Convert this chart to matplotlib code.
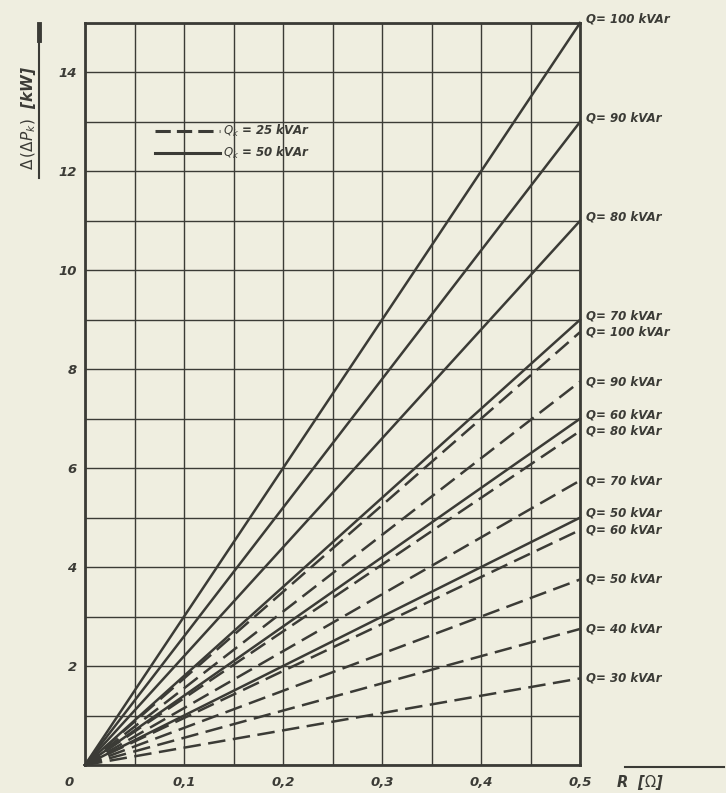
import matplotlib
matplotlib.use("Agg")
import matplotlib.pyplot as plt
import numpy as np

# values read at R = 0.5 ohm (lines go through the origin)
r_end = 0.5
q_solid = [100, 90, 80, 70, 60, 50]           # Qk = 50 kVAr
dp_solid = [15.0, 13.0, 11.0, 9.0, 7.0, 5.0]
q_dashed = [100, 90, 80, 70, 60, 50, 40, 30]  # Qk = 25 kVAr
dp_dashed = [8.75, 7.75, 6.75, 5.75, 4.75, 3.75, 2.75, 1.75]

x_ticks = [0.1, 0.2, 0.3, 0.4, 0.5]
x_labels = ["0,1", "0,2", "0,3", "0,4", "0,5"]
y_ticks = [2, 4, 6, 8, 10, 12, 14]

paper = "#efeee0"
ink = "#3b3b36"
tfont = dict(family="DejaVu Sans", style="italic", weight="bold", color=ink)

fig = plt.figure(figsize=(7.26, 7.93), dpi=100, facecolor=paper)
ax = fig.add_axes([85 / 726, 1 - 765 / 793, 495 / 726, 742 / 793])
ax.set_facecolor(paper)
ax.set_xlim(0, 0.5)
ax.set_ylim(0, 15)

# grid every 0.05 ohm and 1 kW
ax.set_xticks(np.arange(0, 0.5001, 0.05), minor=True)
ax.set_yticks(np.arange(0, 15.001, 1), minor=True)
ax.grid(True, which="both", color=ink, lw=1.0)
ax.tick_params(which="both", length=0)
for s in ax.spines.values():
    s.set_color(ink)
    s.set_linewidth(2)

for q, dp in zip(q_dashed, dp_dashed):
    ax.plot([0, r_end], [0, dp], color=ink, lw=1.8, dashes=(7, 3),
            solid_capstyle="butt", clip_on=False)
    ax.annotate(f"Q= {q} kVAr", (r_end, dp), xytext=(4, 0), textcoords="offset points",
                va="center", ha="left", fontsize=8.5, annotation_clip=False, **tfont)
for q, dp in zip(q_solid, dp_solid):
    ax.plot([0, r_end], [0, dp], color=ink, lw=1.8, clip_on=False)
    ax.annotate(f"Q= {q} kVAr", (r_end, dp), xytext=(4, 3), textcoords="offset points",
                va="center", ha="left", fontsize=8.5, annotation_clip=False, **tfont)

ax.plot([], [], color=ink, lw=2.2, dashes=(5, 2), label="$Q_k$ = 25 kVAr")
ax.plot([], [], color=ink, lw=2.2, label="$Q_k$ = 50 kVAr")
leg = ax.legend(loc="upper left", bbox_to_anchor=(0.12, 0.88), frameon=False,
                handlelength=5.5, handletextpad=0.3, labelspacing=0.5,
                prop=dict(family="DejaVu Sans", style="italic", weight="bold", size=8.5))
for t in leg.get_texts():
    t.set_color(ink)

ax.set_xticks(x_ticks)
ax.set_xticklabels(x_labels)
ax.set_yticks(y_ticks)
ax.set_yticklabels([str(v) for v in y_ticks])
for lab in ax.get_xticklabels() + ax.get_yticklabels():
    lab.set(fontsize=9.5, **tfont)
ax.tick_params(axis="x", pad=8)
ax.tick_params(axis="y", pad=6)
ax.text(-0.016, -0.36, "0", ha="center", va="center", fontsize=9.5, **tfont)

# axis captions with their rules
fig.text(29 / 726, 1 - 118 / 793, r"$\Delta\,(\Delta P_k)$  [kW]", rotation=90,
         ha="center", va="center", fontsize=11, **tfont)
fig.add_artist(plt.Line2D([39 / 726, 39 / 726], [1 - 178 / 793, 1 - 24 / 793],
                          color=ink, lw=1.5))
fig.add_artist(plt.Line2D([39 / 726, 39 / 726], [1 - 40 / 793, 1 - 24 / 793],
                          color=ink, lw=3.5))
fig.text(640 / 726, 1 - 782 / 793, r"R  [$\Omega$]", ha="center", va="center",
         fontsize=10.5, **tfont)
fig.add_artist(plt.Line2D([625 / 726, 724 / 726], [1 - 767 / 793, 1 - 767 / 793],
                          color=ink, lw=1.5))

fig.savefig("out.png", dpi=100, facecolor=paper)
